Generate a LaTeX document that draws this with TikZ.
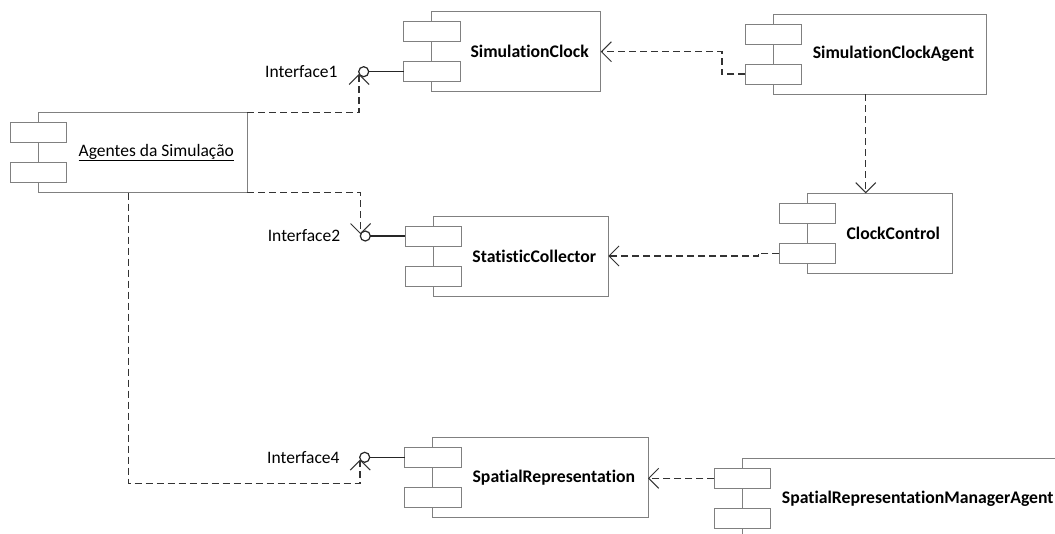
\documentclass[tikz,border=0pt]{standalone}
\usepackage{fontspec}
\setmainfont{Carlito}[Ligatures=NoCommon]
\usetikzlibrary{arrows.meta,calc}
\definecolor{boxgray}{HTML}{808080}
\definecolor{depgray}{HTML}{333333}
\definecolor{ifcol}{HTML}{262626}
\tikzset{
  compbox/.style={draw=boxgray, line width=1pt, minimum height=80pt, inner sep=0pt, outer sep=0pt},
  port/.style={draw=boxgray, fill=white, line width=1pt, minimum width=56.5pt, minimum height=20pt, inner sep=0pt, outer sep=0pt},
  comptext/.style={font=\fontsize{17.7}{21}\selectfont\bfseries, inner sep=0pt},
  iflabel/.style={font=\fontsize{17.5}{21}\selectfont, inner sep=0pt, anchor=east},
  iface/.style={circle, draw=ifcol, line width=1.2pt, minimum size=10pt, inner sep=0pt, outer sep=0pt},
  ifline/.style={draw=ifcol, line width=1.2pt},
  dep/.style={draw=depgray, line width=1.4pt, dash pattern=on 7pt off 4pt,
    -{Straight Barb[length=10pt,width=20pt,line width=1pt]}}
}
\newcommand\umlcomp[5]{%
  \node[compbox, minimum width=#4pt, anchor=north west] (#1) at (#2,#3) {};
  \node[port, anchor=north west] (#1-p1) at ([xshift=-28pt,yshift=-10pt]#1.north west) {};
  \node[port, anchor=north west] (#1-p2) at ([xshift=-28pt,yshift=-50pt]#1.north west) {};
  \node[comptext] (#1-t) at ([xshift=13.5pt]#1.center) {#5};
}
\begin{document}
\begin{tikzpicture}[x=1pt,y=-1pt]
\useasboundingbox (0,0) rectangle (1055,533);
\clip (0,0) rectangle (1055,533);
\fill[white] (0,0) rectangle (1055,533);

\umlcomp{sc}{431.7}{11.7}{169}{SimulationClock}
\umlcomp{sca}{773.3}{14}{213.4}{SimulationClockAgent}
\umlcomp{ag}{38.3}{112.7}{209}{}
\node[font=\fontsize{17.5}{21}\selectfont, inner sep=0pt] (ag-t2) at ([xshift=13.5pt]ag.center) {\underline{Agentes da Simulação}};
\umlcomp{st}{433.3}{216}{175}{StatisticCollector}
\umlcomp{cc}{807.3}{193.3}{145}{ClockControl}
\umlcomp{sr}{432.7}{437.3}{215.3}{SpatialRepresentation}

% SpatialRepresentationManagerAgent (cut off by the picture edge)
\node[compbox, minimum width=400pt, anchor=north west] (srma) at (742.3,458.3) {};
\node[port, anchor=north west] (srma-p1) at ([xshift=-28pt,yshift=-10pt]srma.north west) {};
\node[port, anchor=north west] (srma-p2) at ([xshift=-28pt,yshift=-50pt]srma.north west) {};
\node[comptext, anchor=west] (srma-t) at ([xshift=39.4pt]srma.west) {SpatialRepresentationManagerAgent};

% interfaces
\node[iface] (if1) at ([xshift=-40pt]sc-p2.west) {};
\node[iface] (if2) at ([xshift=-40pt]st-p1.west) {};
\node[iface] (if4) at ([xshift=-40pt]sr-p1.west) {};
\draw[ifline] (if1.east) -- (sc-p2.west);
\draw[ifline] (if2.east) -- (st-p1.west);
\draw[ifline] (if4.east) -- (sr-p1.west);
\node[iflabel] (if1-l) at ([xshift=-21pt]if1.west) {Interface1};
\node[iflabel] (if2-l) at ([xshift=-20pt]if2.west) {Interface2};
\node[iflabel] (if4-l) at ([xshift=-20pt]if4.west) {Interface4};

% dependencies
\draw[dep] (ag.north east) -| (if1.205);
\draw[dep] (ag.south east) -| (if2.160);
\draw[dep] ([xshift=-14.5pt]ag.south) |- ([yshift=-24pt]if4.205) -- (if4.205);
\draw[dep] (sca-p2.west) -- ([xshift=-23.5pt]sca-p2.west) |- (sc.east);
\draw[dep] ([xshift=-14.3pt]sca.south) -- ([xshift=-14.3pt]sca.south |- cc.north);
\draw[dep] (cc-p2.west) -- ([xshift=-21pt]cc-p2.west) |- (st.east);
\draw[dep] (srma-p1.west) -- (srma-p1.west -| sr.east);
\end{tikzpicture}
\end{document}
